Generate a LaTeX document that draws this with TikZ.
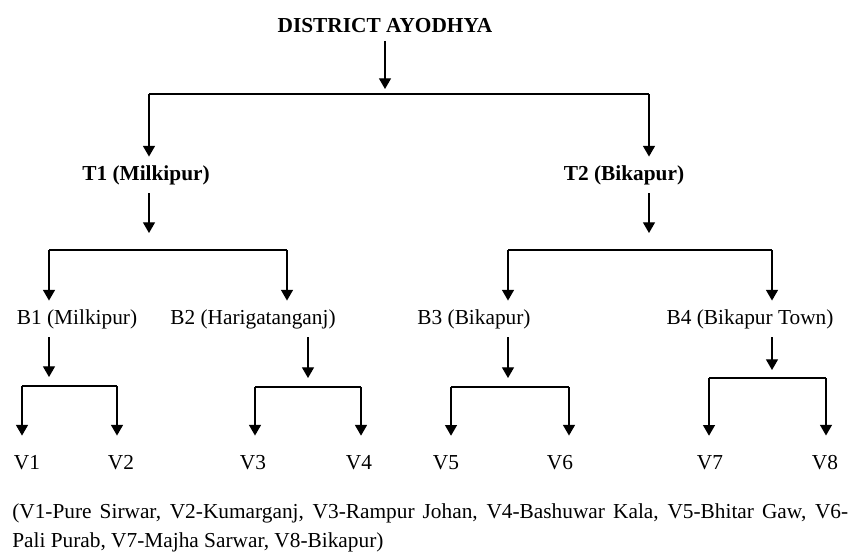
\documentclass[tikz,border=0pt]{standalone}
\usepackage{fontspec}
\setmainfont{Liberation Serif}
\usetikzlibrary{arrows.meta}

\begin{document}
\begin{tikzpicture}[x=0.75pt,y=-0.75pt]
\tikzset{lab/.style={font=\fontsize{16}{19}\selectfont,inner sep=0pt,outer sep=6.5pt,anchor=base}}
\tikzset{head/.style={lab,font=\fontsize{16}{19}\selectfont\bfseries}}
\tikzset{vill/.style={lab,outer sep=14.5pt}}
\tikzset{note/.style={font=\fontsize{16}{19}\selectfont,inner sep=0pt,anchor=base west}}
\tikzset{arr/.style={line width=0.9pt,-{Triangle[width=9pt,length=8pt]}}}
\useasboundingbox (0,0) rectangle (856,558);

\node[head] (dist) at (385,32) {DISTRICT AYODHYA};
\node[head] (t1) at (146,180) {T1 (Milkipur)};
\node[head] (t2) at (624,180) {T2 (Bikapur)};
\node[lab] (b1) at (77,324) {B1 (Milkipur)};
\node[lab] (b2) at (253,324) {B2 (Harigatanganj)};
\node[lab] (b3) at (474,324) {B3 (Bikapur)};
\node[lab] (b4) at (750,324) {B4 (Bikapur Town)};
\node[vill] (v1) at (27,469) {V1};
\node[vill] (v2) at (121,469) {V2};
\node[vill] (v3) at (253,469) {V3};
\node[vill] (v4) at (359,469) {V4};
\node[vill] (v5) at (446,469) {V5};
\node[vill] (v6) at (560,469) {V6};
\node[vill] (v7) at (710,469) {V7};
\node[vill] (v8) at (825,469) {V8};
\node[note] (n1) at (12,518) {\makebox[627pt][s]{(V1-Pure Sirwar, V2-Kumarganj, V3-Rampur Johan, V4-Bashuwar Kala, V5-Bhitar Gaw, V6-}};
\node[note] (n2) at (12,547) {Pali Purab, V7-Majha Sarwar, V8-Bikapur)};

\coordinate (d0) at (385,89);
\coordinate (l0) at (149,94);
\coordinate (r0) at (649,94);
\coordinate (d1) at (149,233);
\coordinate (l1) at (49,250);
\coordinate (r1) at (287,250);
\coordinate (d2) at (649,233);
\coordinate (l2) at (508,250);
\coordinate (r2) at (772,250);
\coordinate (e1) at (49,377);
\coordinate (p1) at (22,386);
\coordinate (q1) at (117,386);
\coordinate (e2) at (308,378);
\coordinate (p2) at (255,387);
\coordinate (q2) at (361,387);
\coordinate (e3) at (508,378);
\coordinate (p3) at (451,387);
\coordinate (q3) at (569,387);
\coordinate (e4) at (772,370);
\coordinate (p4) at (709,378);
\coordinate (q4) at (826,378);

\draw[arr] (dist.south) -- (d0);
\draw[line width=0.9pt] (l0) -- (r0);
\draw[arr] (l0) -- (l0 |- t1.north);
\draw[arr] (r0) -- (r0 |- t2.north);

\draw[arr] (d1 |- t1.south) -- (d1);
\draw[line width=0.9pt] (l1) -- (r1);
\draw[arr] (l1) -- (l1 |- b1.north);
\draw[arr] (r1) -- (r1 |- b2.north);
\draw[arr] (d2 |- t2.south) -- (d2);
\draw[line width=0.9pt] (l2) -- (r2);
\draw[arr] (l2) -- (l2 |- b3.north);
\draw[arr] (r2) -- (r2 |- b4.north);

\draw[arr] (e1 |- b1.south) -- (e1);
\draw[line width=0.9pt] (p1) -- (q1);
\draw[arr] (p1) -- (p1 |- v1.north);
\draw[arr] (q1) -- (q1 |- v2.north);
\draw[arr] (e2 |- b2.south) -- (e2);
\draw[line width=0.9pt] (p2) -- (q2);
\draw[arr] (p2) -- (p2 |- v3.north);
\draw[arr] (q2) -- (q2 |- v4.north);
\draw[arr] (e3 |- b3.south) -- (e3);
\draw[line width=0.9pt] (p3) -- (q3);
\draw[arr] (p3) -- (p3 |- v5.north);
\draw[arr] (q3) -- (q3 |- v6.north);
\draw[arr] (e4 |- b4.south) -- (e4);
\draw[line width=0.9pt] (p4) -- (q4);
\draw[arr] (p4) -- (p4 |- v7.north);
\draw[arr] (q4) -- (q4 |- v8.north);
\end{tikzpicture}
\end{document}
